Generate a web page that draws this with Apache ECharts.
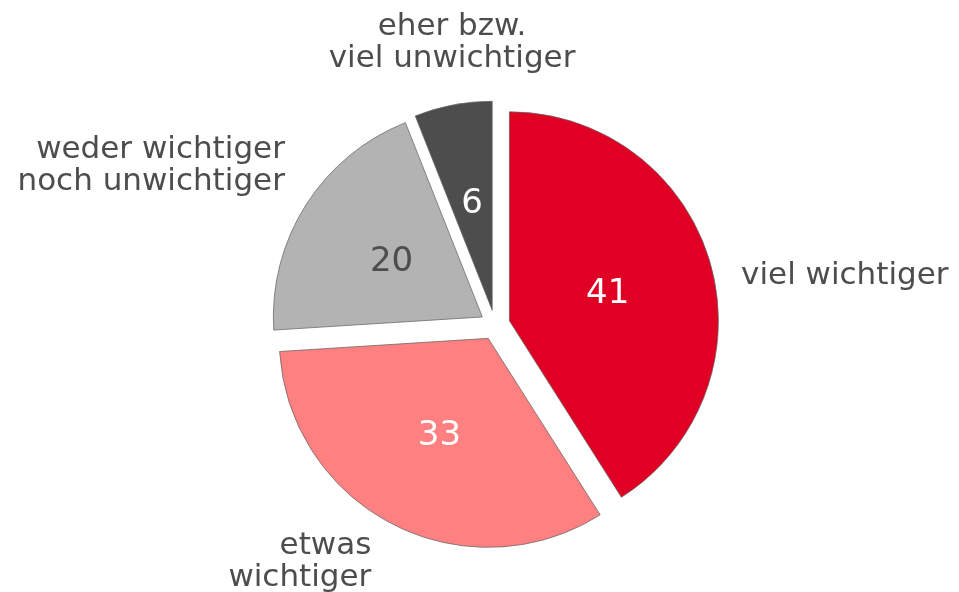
<!DOCTYPE html>
<html>
<head>
<meta charset="utf-8">
<script src="https://cdn.jsdelivr.net/npm/echarts@6/dist/echarts.min.js"></script>
<style>
  html, body { margin: 0; padding: 0; background: #fff; }
  #chart { width: 959px; height: 592px; }
</style>
</head>
<body>
<div id="chart"></div>
<script>
// Daten
var categories = ['viel wichtiger', 'etwas\nwichtiger', 'weder wichtiger\nnoch unwichtiger', 'eher bzw.\nviel unwichtiger'];
var values = [41, 33, 20, 6];
var sliceColors = ['#E00024', '#FF8080', '#B3B3B3', '#4D4D4D'];
var valueColors = ['#ffffff', '#ffffff', '#4D4D4D', '#ffffff'];

// Feinverschiebung der Beschriftungen (px)
var nameShift = [[26, 13], [-17, 37], [-16, -39], [4, -62]];
var valueShift = [[-5, 3], [0, 2], [0, 3], [0, 0]];

var container = echarts.init(document.getElementById('chart'));

var valueData = [];
var nameData = [];
for (var i = 0; i < values.length; i++) {
    valueData.push({
        name: categories[i],
        value: values[i],
        selected: true,
        itemStyle: { color: sliceColors[i] },
        label: { color: valueColors[i] }
    });
    nameData.push({
        name: categories[i],
        value: values[i],
        selected: true
    });
}

var pieBase = {
    type: 'pie',
    center: [495, 325],
    radius: 209,
    startAngle: 90,
    clockwise: true,
    selectedMode: 'multiple',
    selectedOffset: 15,
    avoidLabelOverlap: false,
    emphasis: { disabled: true, scale: false }
};

var option = {
    animation: false,
    textStyle: { fontFamily: 'DejaVu Sans' },
    series: [
        Object.assign({}, pieBase, {
            name: 'werte',
            itemStyle: { borderColor: '#666666', borderWidth: 0.75 },
            label: {
                show: true,
                position: 'inside',
                formatter: '{c}',
                fontSize: 34,
                fontFamily: 'DejaVu Sans'
            },
            labelLine: { show: false },
            labelLayout: function (p) {
                var s = valueShift[p.dataIndex];
                return { dx: s[0], dy: s[1] };
            },
            data: valueData
        }),
        Object.assign({}, pieBase, {
            name: 'namen',
            silent: true,
            itemStyle: { color: 'rgba(0,0,0,0)', borderWidth: 0 },
            label: {
                show: true,
                position: 'outside',
                formatter: '{b}',
                fontSize: 31,
                lineHeight: 32,
                color: '#4D4D4D',
                fontFamily: 'DejaVu Sans',
                overflow: 'none'
            },
            labelLine: { show: false, length: 0, length2: 0 },
            labelLayout: function (p) {
                var s = nameShift[p.dataIndex];
                var o = { dx: s[0], dy: s[1] };
                if (p.dataIndex === 3) { o.align = 'center'; }
                return o;
            },
            data: nameData
        })
    ]
};

container.setOption(option);
</script>
</body>
</html>
